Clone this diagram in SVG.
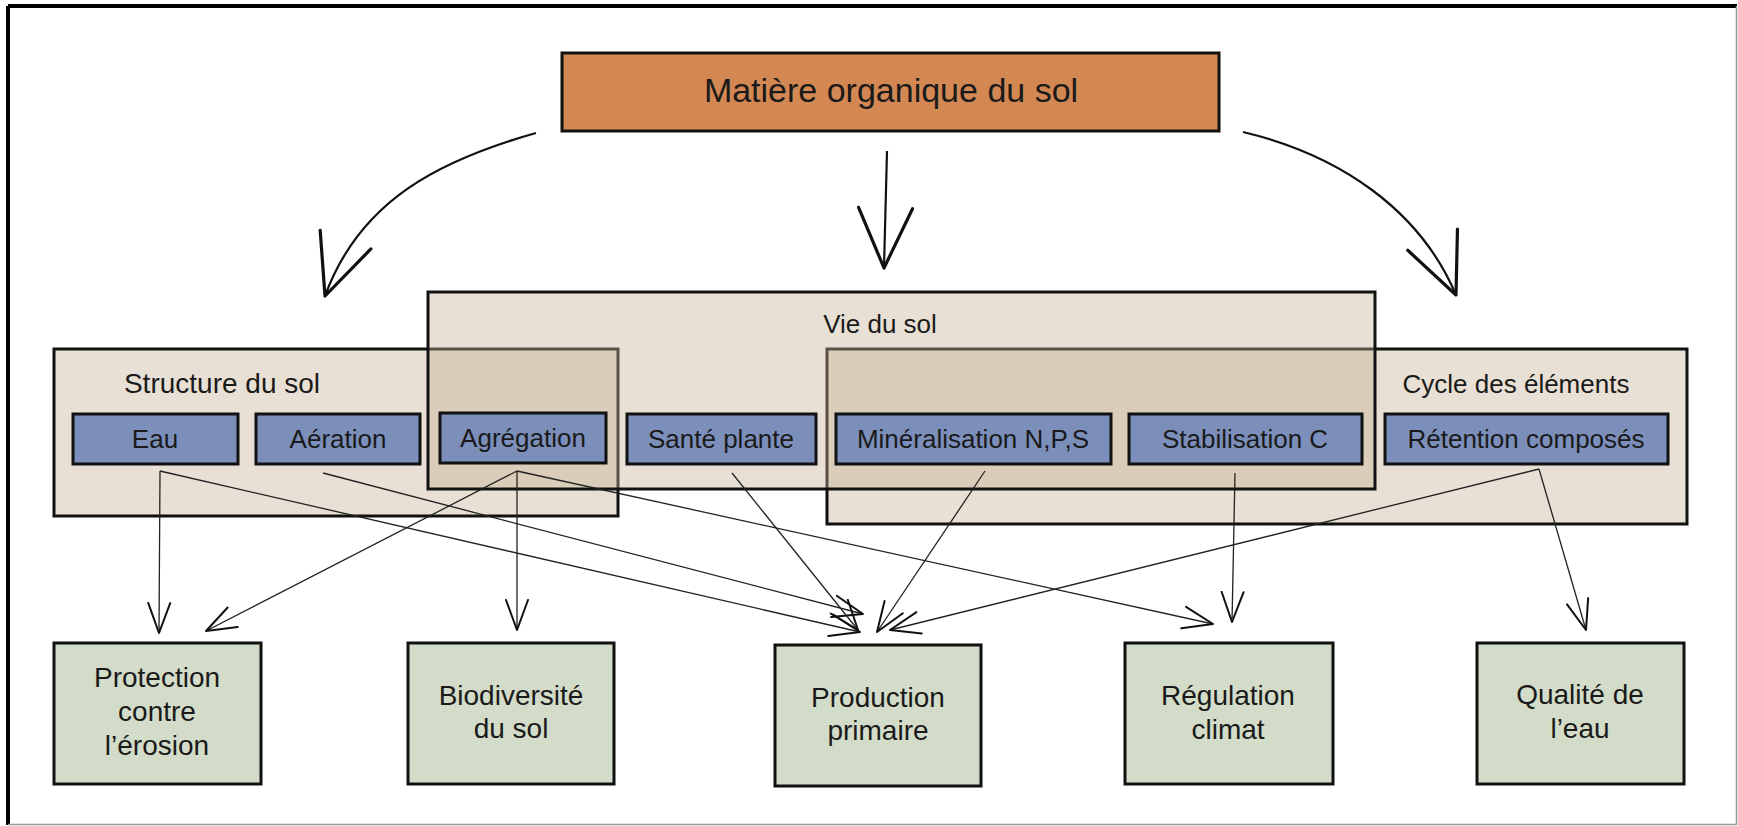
<svg xmlns="http://www.w3.org/2000/svg" width="1738" height="826" viewBox="0 0 1738 826">
<style>
text{font-family:"Liberation Sans",Arial,sans-serif;fill:#1a1a1a;text-anchor:middle}
.cont{fill:rgb(197,177,147);fill-opacity:0.4;stroke:#111;stroke-width:3}
.blue{fill:#7b8fba;stroke:#111;stroke-width:3}
.green{fill:#d3dcc9;stroke:#111;stroke-width:3}
.orange{fill:#d38752;stroke:#111;stroke-width:3}
.bt{font-size:26px}
.gt{font-size:28px}
.ct{font-size:26px}
.ln{fill:none;stroke:#222;stroke-width:1.3;marker-end:url(#arr)}
.big{fill:none;stroke:#111;stroke-width:2.2;marker-end:url(#bigarr)}
</style>
<defs>
<marker id="arr" viewBox="0 0 32 26" markerWidth="32" markerHeight="26" refX="31" refY="13" orient="auto" markerUnits="userSpaceOnUse">
<path d="M1,2 L31,13 L1,24" fill="none" stroke="#111" stroke-width="2" stroke-linecap="round" stroke-linejoin="round"/>
</marker>
<marker id="bigarr" viewBox="0 0 64 58" markerWidth="64" markerHeight="58" refX="62" refY="29" orient="auto" markerUnits="userSpaceOnUse">
<path d="M2,2 L62,29 L2,56" fill="none" stroke="#111" stroke-width="3.2" stroke-linecap="round" stroke-linejoin="round"/>
</marker>
</defs>
<rect width="1738" height="826" fill="#fff"/>
<line x1="8" y1="6" x2="1737" y2="6" stroke="#000" stroke-width="4"/>
<line x1="8" y1="6" x2="8" y2="825" stroke="#000" stroke-width="4"/>
<line x1="1736.5" y1="6" x2="1736.5" y2="825" stroke="#999" stroke-width="1.5"/>
<line x1="8" y1="824.5" x2="1737" y2="824.5" stroke="#999" stroke-width="1.5"/>

<g id="structure">
<rect class="cont" x="54" y="349" width="564" height="167"/>
</g>
<g id="cycle">
<rect class="cont" x="827" y="349" width="860" height="175"/>
</g>
<g id="vie">
<rect class="cont" x="428" y="292" width="947" height="197"/>
</g>
<text class="ct" x="222" y="393" style="font-size:28px">Structure du sol</text>
<text class="ct" x="880" y="333">Vie du sol</text>
<text class="ct" x="1516" y="393">Cycle des éléments</text>

<g id="mos">
<rect class="orange" x="562" y="53" width="657" height="78"/>
<text x="891" y="102" style="font-size:34px">Matière organique du sol</text>
</g>

<g id="eau"><rect class="blue" x="73" y="414" width="165" height="50"/><text class="bt" x="155" y="448">Eau</text></g>
<g id="aeration"><rect class="blue" x="256" y="414" width="164" height="50"/><text class="bt" x="338" y="448">Aération</text></g>
<g id="agregation"><rect class="blue" x="440" y="413" width="166" height="50"/><text class="bt" x="523" y="447">Agrégation</text></g>
<g id="sante"><rect class="blue" x="627" y="414" width="189" height="50"/><text class="bt" x="721" y="448">Santé plante</text></g>
<g id="mineralisation"><rect class="blue" x="836" y="414" width="275" height="50"/><text class="bt" x="973" y="448">Minéralisation N,P,S</text></g>
<g id="stabilisation"><rect class="blue" x="1129" y="414" width="233" height="50"/><text class="bt" x="1245" y="448">Stabilisation C</text></g>
<g id="retention"><rect class="blue" x="1385" y="414" width="283" height="50"/><text class="bt" x="1526" y="448">Rétention composés</text></g>

<g id="protection"><rect class="green" x="54" y="643" width="207" height="141"/>
<text class="gt" x="157" y="687">Protection</text><text class="gt" x="157" y="721">contre</text><text class="gt" x="157" y="755">l’érosion</text></g>
<g id="biodiversite"><rect class="green" x="408" y="643" width="206" height="141"/>
<text class="gt" x="511" y="705">Biodiversité</text><text class="gt" x="511" y="738">du sol</text></g>
<g id="production"><rect class="green" x="775" y="645" width="206" height="141"/>
<text class="gt" x="878" y="707">Production</text><text class="gt" x="878" y="740">primaire</text></g>
<g id="regulation"><rect class="green" x="1125" y="643" width="208" height="141"/>
<text class="gt" x="1228" y="705">Régulation</text><text class="gt" x="1228" y="739">climat</text></g>
<g id="qualite"><rect class="green" x="1477" y="643" width="207" height="141"/>
<text class="gt" x="1580" y="704">Qualité de</text><text class="gt" x="1580" y="738">l’eau</text></g>

<g id="connectors">
<path class="big" d="M536,133 C440,160 360,200 325,296"/>
<path class="big" d="M887,151 L884,268"/>
<path class="big" d="M1243,132 C1340,155 1420,210 1456,295"/>
<path class="ln" d="M160,471 L159,633"/>
<path class="ln" d="M160,471 L860,632"/>
<path class="ln" d="M323,473 L863,614"/>
<path class="ln" d="M517,471 L206,631"/>
<path class="ln" d="M517,471 L517,630"/>
<path class="ln" d="M517,471 L1213,624"/>
<path class="ln" d="M732,473 L858,630"/>
<path class="ln" d="M985,471 L877,632"/>
<path class="ln" d="M1235,473 L1232,622"/>
<path class="ln" d="M1539,469 L890,630"/>
<path class="ln" d="M1539,469 L1586,630"/>
</g>
</svg>
